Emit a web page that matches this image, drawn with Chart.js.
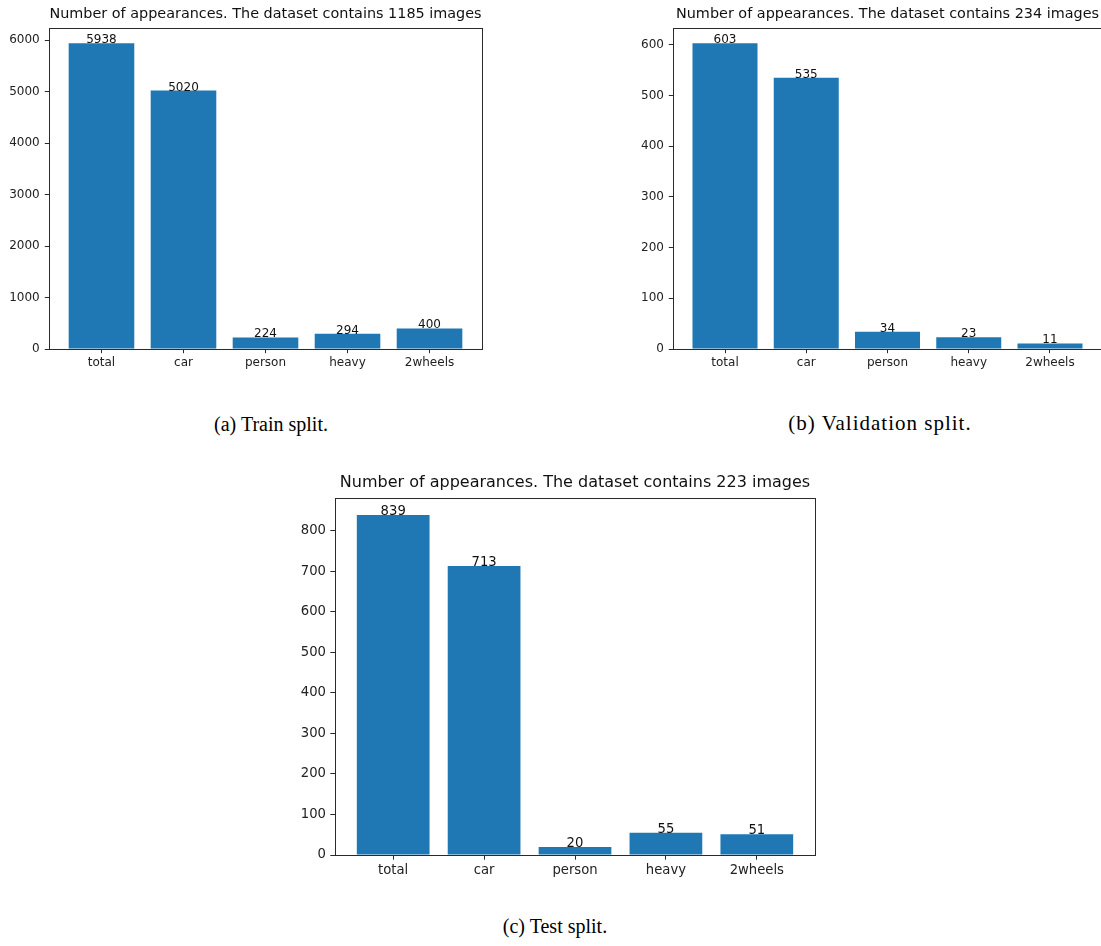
<!DOCTYPE html>
<html>
<head>
<meta charset="utf-8">
<script src="https://cdn.jsdelivr.net/npm/chart.js@4/dist/chart.umd.min.js"></script>
<style>
  html, body { margin: 0; padding: 0; background: #fff; width: 1101px; height: 946px; overflow: hidden; }
  .panel { position: absolute; overflow: hidden; }
  .panel canvas { position: absolute; left: 0; top: 0; }
  .caption {
    position: absolute; font-family: "Liberation Serif", "Times New Roman", serif;
    font-size: 20px; line-height: 20px; color: #000; white-space: nowrap;
    transform: translateX(-50%);
  }
</style>
</head>
<body>
<div class="panel" style="left:0px; top:0px; width:500px; height:380px;"><canvas id="train" width="500" height="380"></canvas></div>
<div class="panel" style="left:600px; top:0px; width:501px; height:380px;"><canvas id="validation" width="510" height="380"></canvas></div>
<div class="panel" style="left:280px; top:465px; width:590px; height:430px;"><canvas id="test" width="590" height="430"></canvas></div>

<div class="caption" style="left:271px; top:414px;">(a) Train split.</div>
<div class="caption" style="left:880px; top:413px; font-size:21px; letter-spacing:1px;">(b) Validation split.</div>
<div class="caption" style="left:555px; top:916px;">(c) Test split.</div>

<script>
// Object classes counted in each split
const categories = ['total', 'car', 'person', 'heavy', '2wheels'];

// Number of appearances per class
const trainCounts = [5938, 5020, 224, 294, 400];
const validationCounts = [603, 535, 34, 23, 11];
const testCounts = [839, 713, 20, 55, 51];

// Images per split (shown in the titles)
const trainImages = 1185;
const validationImages = 234;
const testImages = 223;

// Y tick spacing per split
const trainStep = 1000;
const validationStep = 100;
const testStep = 100;

const FONT = '"DejaVu Sans", "Liberation Sans", sans-serif';
const BAR_WIDTH = 0.8;

// Box around the plotting area (all four spines)
const framePlugin = {
  id: 'frame',
  afterDatasetsDraw(chart) {
    const { ctx, chartArea: a } = chart;
    const l = Math.round(a.left) + 0.5, t = Math.round(a.top) + 0.5;
    const r = Math.round(a.right) + 0.5, b = Math.round(a.bottom) + 0.5;
    ctx.save();
    ctx.strokeStyle = '#2a2a2a';
    ctx.lineWidth = 1;
    ctx.strokeRect(l, t, r - l, b - t);
    ctx.restore();
  }
};

// Count written on top of each bar, baseline on the bar's top edge
const valueLabelPlugin = {
  id: 'valueLabels',
  afterDatasetsDraw(chart, args, opts) {
    const { ctx } = chart;
    const meta = chart.getDatasetMeta(0);
    const ds = chart.data.datasets[0];
    ctx.save();
    ctx.font = `${opts.size}px ${FONT}`;
    ctx.fillStyle = '#111';
    ctx.textAlign = 'center';
    ctx.textBaseline = 'alphabetic';
    meta.data.forEach((el, i) => {
      ctx.fillText(String(ds.data[i].y), el.x, el.y);
    });
    ctx.restore();
  }
};

function drawSplit(p) {
  const canvas = document.getElementById(p.id);
  const W = canvas.width, H = canvas.height;
  const a = p.area;
  const lh = p.title * 1.2;
  const titlePadBottom = p.titleGap - 0.254 * p.title;
  const titlePadTop = a.top - lh - titlePadBottom;
  const margin = 0.05 * (categories.length - 1 + BAR_WIDTH);
  const xMin = -BAR_WIDTH / 2 - margin;
  const xMax = categories.length - 1 + BAR_WIDTH / 2 + margin;
  const yMax = Math.max(...p.counts) * 1.05;

  new Chart(canvas, {
    type: 'bar',
    data: {
      datasets: [{
        data: p.counts.map((v, i) => ({ x: i, y: v })),
        backgroundColor: '#1f77b4',
        borderWidth: 0,
        inflateAmount: 0,
        barPercentage: BAR_WIDTH,
        categoryPercentage: 1
      }]
    },
    options: {
      responsive: false,
      animation: false,
      events: [],
      layout: { padding: { left: 0, top: 0, bottom: 0, right: W - a.right } },
      plugins: {
        legend: { display: false },
        tooltip: { enabled: false },
        title: {
          display: true,
          fullSize: false,
          text: `Number of appearances. The dataset contains ${p.images} images`,
          color: '#111',
          font: { family: FONT, size: p.title, weight: 'normal' },
          padding: { top: titlePadTop, bottom: titlePadBottom }
        },
        valueLabels: { size: p.tick }
      },
      scales: {
        x: {
          type: 'linear',
          min: xMin,
          max: xMax,
          offset: false,
          afterBuildTicks: s => { s.ticks = categories.map((c, i) => ({ value: i })); },
          afterFit: s => { s.height = H - a.bottom; },
          grid: { display: true, drawOnChartArea: false, drawTicks: true, tickLength: p.tl, color: '#2a2a2a', offset: false },
          border: { display: false },
          ticks: {
            autoSkip: false, maxRotation: 0, minRotation: 0,
            padding: p.xPad, color: '#222',
            font: { family: FONT, size: p.tick },
            callback: v => categories[v]
          }
        },
        y: {
          min: 0,
          max: yMax,
          afterBuildTicks: s => {
            const ticks = [];
            for (let k = 0; k * p.step <= s.max; k++) ticks.push({ value: k * p.step });
            s.ticks = ticks;
          },
          afterFit: s => { s.width = a.left; },
          grid: { display: true, drawOnChartArea: false, drawTicks: true, tickLength: p.tl, color: '#2a2a2a' },
          border: { display: false },
          ticks: {
            autoSkip: false,
            padding: p.yPad, color: '#222',
            font: { family: FONT, size: p.tick },
            callback: v => String(v)
          }
        }
      }
    },
    plugins: [framePlugin, valueLabelPlugin]
  });
}

drawSplit({ id: 'train', counts: trainCounts, images: trainImages, step: trainStep,
  area: { left: 49, right: 482, top: 28, bottom: 349 },
  title: 14.4, tick: 12, titleGap: 8.3, tl: 4.2, xPad: 2.2, yPad: 5.1 });

drawSplit({ id: 'validation', counts: validationCounts, images: validationImages, step: validationStep,
  area: { left: 73, right: 502, top: 28, bottom: 349 },
  title: 14.4, tick: 12, titleGap: 8.3, tl: 4.2, xPad: 2.2, yPad: 4.8 });

drawSplit({ id: 'test', counts: testCounts, images: testImages, step: testStep,
  area: { left: 55, right: 535, top: 33, bottom: 390 },
  title: 16, tick: 13.2, titleGap: 9.3, tl: 4.7, xPad: 2.8, yPad: 4.3 });
</script>
</body>
</html>
